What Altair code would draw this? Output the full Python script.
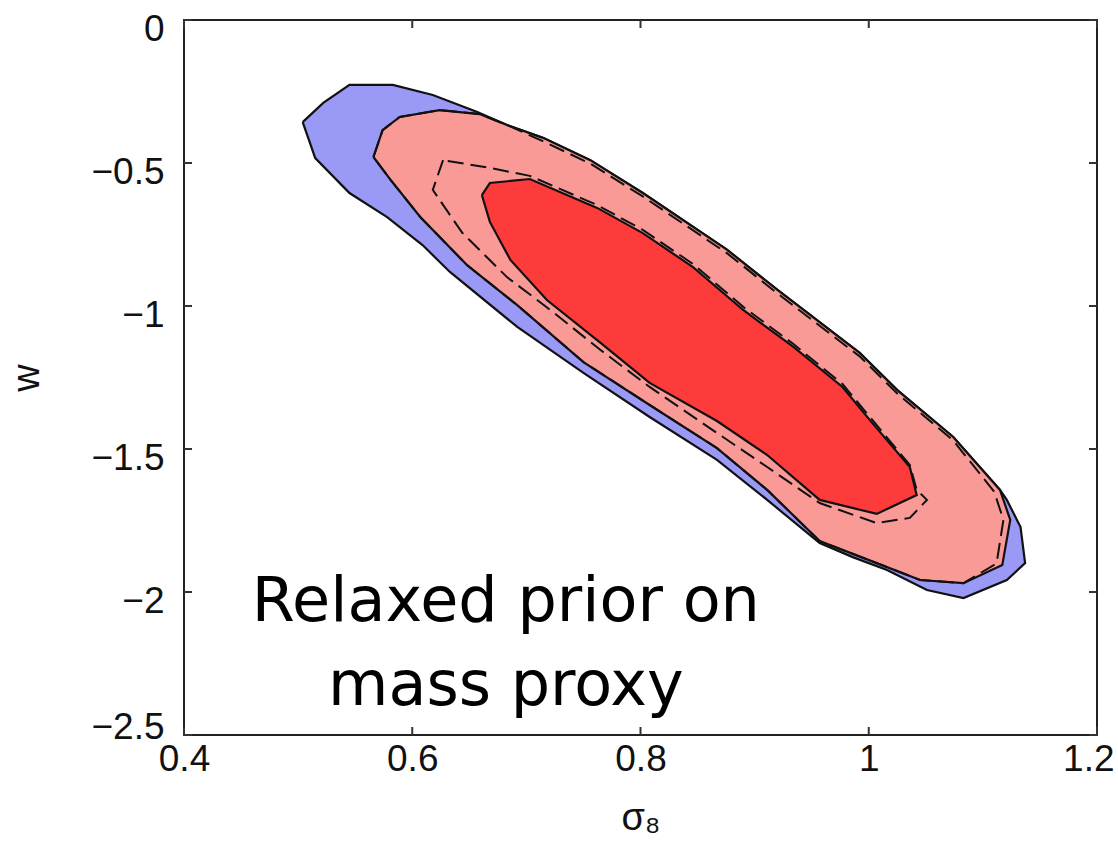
import altair as alt
import pandas as pd

# ---- contour data (sigma_8, w) ----
blue_x = [0.504, 0.522, 0.545, 0.583, 0.618, 0.657, 0.683, 0.715, 0.756, 0.802, 0.876, 0.920, 0.992, 1.025,
          1.074, 1.115, 1.121, 1.133, 1.137, 1.121, 1.083, 1.051, 1.016, 0.986, 0.957, 0.911, 0.867, 0.808,
          0.750, 0.692, 0.633, 0.609, 0.578, 0.545, 0.515]
blue_y = [-0.357, -0.290, -0.227, -0.227, -0.262, -0.322, -0.367, -0.413, -0.490, -0.605, -0.804, -0.944, -1.164, -1.294,
          -1.458, -1.643, -1.678, -1.773, -1.899, -1.958, -2.021, -1.993, -1.923, -1.878, -1.829, -1.678, -1.538, -1.388,
          -1.234, -1.073, -0.881, -0.787, -0.689, -0.605, -0.483]

pink_x = [0.566, 0.574, 0.589, 0.624, 0.659, 0.683, 0.715, 0.756, 0.802, 0.876, 0.920, 0.992, 1.025, 1.074,
          1.115, 1.124, 1.117, 1.083, 1.045, 1.007, 0.957, 0.911, 0.867, 0.808, 0.750, 0.692, 0.648, 0.607, 0.581]
pink_y = [-0.479, -0.385, -0.339, -0.315, -0.329, -0.367, -0.413, -0.490, -0.605, -0.804, -0.944, -1.164, -1.294, -1.458,
          -1.643, -1.748, -1.906, -1.969, -1.958, -1.899, -1.822, -1.643, -1.497, -1.346, -1.196, -0.997, -0.857, -0.689, -0.559]

red_x = [0.661, 0.668, 0.703, 0.762, 0.802, 0.846, 0.890, 0.934, 0.977, 1.001, 1.036, 1.042, 1.007, 0.957,
         0.911, 0.867, 0.808, 0.765, 0.718, 0.686, 0.668]
red_y = [-0.612, -0.570, -0.556, -0.657, -0.745, -0.864, -1.014, -1.143, -1.283, -1.399, -1.563, -1.661, -1.727, -1.678,
         -1.521, -1.402, -1.269, -1.129, -0.979, -0.839, -0.706]

dash_in_x = [0.627, 0.618, 0.630, 0.644, 0.683, 0.721, 0.765, 0.808, 0.867, 0.911, 0.957, 1.007, 1.036, 1.051,
             1.042, 1.036, 1.001, 0.977, 0.934, 0.890, 0.846, 0.802, 0.762, 0.703, 0.668]
dash_in_y = [-0.490, -0.594, -0.664, -0.745, -0.899, -1.014, -1.154, -1.283, -1.444, -1.563, -1.689, -1.759, -1.741, -1.678,
             -1.643, -1.556, -1.388, -1.273, -1.133, -1.003, -0.853, -0.734, -0.647, -0.545, -0.517]

dash_out_x = [0.566, 0.574, 0.589, 0.624, 0.659, 0.683, 0.715, 0.756, 0.802, 0.876, 0.920, 0.992, 1.025, 1.074,
              1.110, 1.118, 1.112, 1.083, 1.045, 1.007, 0.957, 0.911, 0.867, 0.808, 0.750, 0.692, 0.648, 0.607, 0.581]
dash_out_y = [-0.479, -0.385, -0.339, -0.315, -0.329, -0.367, -0.425, -0.502, -0.617, -0.816, -0.956, -1.176, -1.306, -1.470,
              -1.650, -1.748, -1.900, -1.969, -1.958, -1.899, -1.822, -1.643, -1.497, -1.346, -1.196, -0.997, -0.857, -0.689, -0.559]

x_ticks = [0.4, 0.6, 0.8, 1.0, 1.2]
y_ticks = [0, -0.5, -1, -1.5, -2, -2.5]

note_lines = ["Relaxed prior on", "mass proxy"]
note_x = [0.682, 0.682]
note_y = [-2.101, -2.395]

W, H = 913, 715


def poly(xs, ys):
    xs = list(xs) + [xs[0]]
    ys = list(ys) + [ys[0]]
    return pd.DataFrame({"x": xs, "y": ys, "i": range(len(xs))})


xscale = alt.Scale(domain=[0.4, 1.2], nice=False, zero=False)
yscale = alt.Scale(domain=[-2.5, 0], nice=False, zero=False)

xaxis = alt.Axis(values=x_ticks, title="σ₈", grid=False, domain=False, ticks=False,
                 labelFont="Liberation Sans", labelFontSize=37, labelColor="#111", labelPadding=6,
                 labelAlign={"condition": {"test": "datum.value >= 1.19", "value": "right"}, "value": "center"},
                 labelOffset={"condition": {"test": "datum.value >= 1.19", "value": 17}, "value": 0},
                 titleFont="Liberation Sans", titleFontSize=38, titleFontWeight="normal",
                 titleColor="#111", titlePadding=22, format="~g", labelFlush=False, labelOverlap=False)
yaxis = alt.Axis(values=y_ticks, title="w", grid=False, domain=False, ticks=False,
                 labelFont="Liberation Sans", labelFontSize=37, labelColor="#111", labelPadding=20,
                 labelOffset={"condition": {"test": "datum.value <= -2.49", "value": -8}, "value": 9},
                 titleFont="Liberation Sans", titleFontSize=38, titleFontWeight="normal",
                 titleColor="#111", titlePadding=44, format="~g", labelFlush=False, labelOverlap=False)


def X(field):
    return alt.X(field, scale=xscale, axis=xaxis)


def Y(field):
    return alt.Y(field, scale=yscale, axis=yaxis)


def filled(df, color):
    return alt.Chart(df).mark_line(fill=color, stroke="#111", strokeWidth=2.2, clip=True).encode(
        x=X("x:Q"), y=Y("y:Q"), order="i:Q")


def dashed(df):
    return alt.Chart(df).mark_line(stroke="#111", strokeWidth=2, strokeDash=[16, 7], clip=True).encode(
        x=X("x:Q"), y=Y("y:Q"), order="i:Q")


blue = filled(poly(blue_x, blue_y), "#9a9af6")
pink = filled(poly(pink_x, pink_y), "#f99a97")
red = filled(poly(red_x, red_y), "#fd3b3b")
din = dashed(poly(dash_in_x, dash_in_y))
dout = dashed(poly(dash_out_x, dash_out_y))

xt = pd.DataFrame({"x": x_ticks})
yt = pd.DataFrame({"y": y_ticks})
tick_style = dict(color="#333", strokeWidth=2)
tb = alt.Chart(xt).mark_rule(**tick_style).encode(x=X("x:Q"), y=alt.value(H), y2=alt.value(H - 8))
tt = alt.Chart(xt).mark_rule(**tick_style).encode(x=X("x:Q"), y=alt.value(0), y2=alt.value(8))
tl = alt.Chart(yt).mark_rule(**tick_style).encode(y=Y("y:Q"), x=alt.value(0), x2=alt.value(8))
tr = alt.Chart(yt).mark_rule(**tick_style).encode(y=Y("y:Q"), x=alt.value(W), x2=alt.value(W - 8))

note = alt.Chart(pd.DataFrame({"t": note_lines, "x": note_x, "y": note_y})).mark_text(
    font="DejaVu Sans", fontSize=62, color="black", align="center", baseline="alphabetic"
).encode(x=X("x:Q"), y=Y("y:Q"), text="t:N")

chart = alt.layer(blue, pink, red, din, dout, tb, tt, tl, tr, note).properties(
    width=W, height=H,
    background="white",
    autosize=alt.AutoSizeParams(type="none"),
    padding={"left": 184, "top": 20, "right": 21, "bottom": 114},
).configure_view(stroke="#222", strokeWidth=2)

chart.save("out.html", embed_options={"renderer": "svg", "actions": False})
